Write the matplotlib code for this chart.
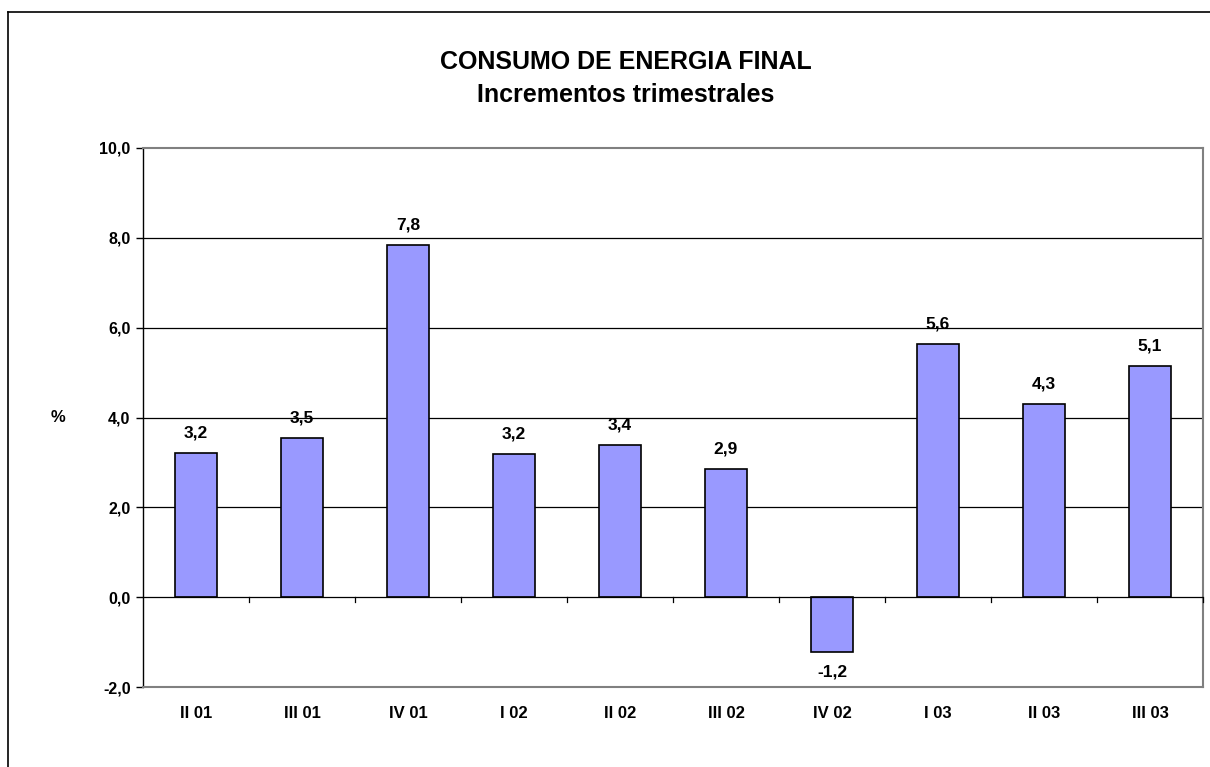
import matplotlib
matplotlib.use('Agg')
import matplotlib.pyplot as plt
from matplotlib.lines import Line2D
import numpy as np

plt.rcParams['font.family'] = ['Liberation Sans', 'DejaVu Sans']
plt.rcParams['font.weight'] = 'bold'

quarters = ['II 01', 'III 01', 'IV 01', 'I 02', 'II 02', 'III 02', 'IV 02', 'I 03', 'II 03', 'III 03']
increments = [3.21, 3.54, 7.84, 3.18, 3.38, 2.86, -1.22, 5.64, 4.30, 5.14]
yticks = [-2, 0, 2, 4, 6, 8, 10]

fig = plt.figure(figsize=(12.1, 7.67), dpi=100)
ax = fig.add_axes([143/1210, 1 - 687/767, 1060/1210, 539/767])

x = np.arange(len(quarters))
bars = ax.bar(x, increments, width=0.4, color='#9999FF', edgecolor='black', linewidth=1.2, zorder=3)

ax.set_xlim(-0.5, len(quarters) - 0.5)
ax.set_ylim(-2, 10)
ax.set_yticks(yticks)
ax.set_yticklabels([('%.1f' % t).replace('.', ',') for t in yticks], fontsize=11.5, fontweight='bold')
ax.tick_params(axis='y', direction='out', length=5, width=1, pad=4)

# gridlines
for t in yticks[2:-1]:
    ax.axhline(t, color='black', linewidth=0.9, zorder=1)
ax.axhline(0, color='black', linewidth=0.9, zorder=4)

# category ticks on the zero line
ax.set_xticks([])
for b in np.arange(-0.5, len(quarters), 1.0)[1:]:
    ax.plot([b, b], [0, -0.11], color='black', linewidth=0.9, zorder=4, clip_on=False)

# x labels below the plot area
for i, q in enumerate(quarters):
    ax.annotate(q, (i, -2), xytext=(0, -19), textcoords='offset points',
                ha='center', va='center', fontsize=12, fontweight='bold', annotation_clip=False)

for s in ['top', 'right', 'bottom']:
    ax.spines[s].set_color('#808080')
    ax.spines[s].set_linewidth(1.5)
ax.spines['left'].set_color('black')
ax.spines['left'].set_linewidth(1)

# value labels
for i, v in enumerate(increments):
    off = 14.5 if v >= 0 else -14.5
    ax.annotate(('%.1f' % v).replace('.', ','), (i, v), xytext=(0, off), textcoords='offset points',
                ha='center', va='center', fontsize=12.5, fontweight='bold', zorder=5)

fig.text(58/1210, 1 - 417/767, '%', ha='center', va='center', fontsize=12, fontweight='bold')
fig.text(626/1210, 1 - 62/767, 'CONSUMO DE ENERGIA FINAL', ha='center', va='center', fontsize=18, fontweight='bold')
fig.text(626/1210, 1 - 95/767, 'Incrementos trimestrales', ha='center', va='center', fontsize=18, fontweight='bold')

# chart area border (left and top edges visible)
fig.add_artist(Line2D([8/1210, 8/1210], [0, 1 - 12/767], transform=fig.transFigure, color='black', linewidth=1.2))
fig.add_artist(Line2D([8/1210, 1], [1 - 12/767, 1 - 12/767], transform=fig.transFigure, color='black', linewidth=1.2))

fig.savefig('out.png', dpi=100)
